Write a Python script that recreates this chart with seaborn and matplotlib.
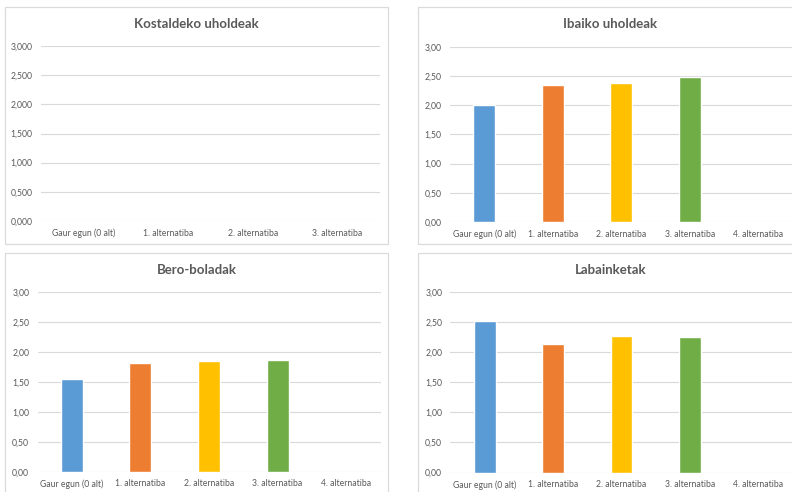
import numpy as np
import pandas as pd
import matplotlib
matplotlib.use("Agg")
import matplotlib.pyplot as plt
import seaborn as sns
from matplotlib.patches import Rectangle
from matplotlib.ticker import FuncFormatter, MultipleLocator

# ---------------------------------------------------------------
# DATA
# ---------------------------------------------------------------
cats_4 = ["Gaur egun (0 alt)", "1. alternatiba", "2. alternatiba", "3. alternatiba"]
cats_5 = cats_4 + ["4. alternatiba"]

kostaldeko = [None, None, None, None]
ibaiko = [2.00, 2.34, 2.39, 2.48, None]
bero = [1.54, 1.81, 1.85, 1.87, None]
labainketak = [2.52, 2.14, 2.27, 2.25, None]

titles = ["Kostaldeko uholdeak", "Ibaiko uholdeak", "Bero-boladak", "Labainketak"]
bar_colors = ["#5B9BD5", "#ED7D31", "#FFC000", "#70AD47", "#4472C4"]

# ---------------------------------------------------------------
# STYLE
# ---------------------------------------------------------------
sns.set_theme(style="white")
plt.rcParams["font.family"] = ["Lato", "DejaVu Sans"]

W, H = 792, 492
TXT = "#595959"
GRID = "#D9D9D9"

fig = plt.figure(figsize=(W / 100, H / 100), dpi=100)
fig.patch.set_facecolor("white")


def px_axes(x0, y0, x1, y1):
    # pixel box (top-left origin) -> figure axes
    return fig.add_axes([x0 / W, (H - y1) / H, (x1 - x0) / W, (y1 - y0) / H])


def chart_box(x0, y0, x1, y1):
    fig.patches.append(Rectangle((x0 / W, (H - y1) / H), (x1 - x0) / W, (y1 - y0) / H,
                                 transform=fig.transFigure, fill=False,
                                 edgecolor="#DADADA", lw=0.9, zorder=0))


def draw_panel(ax, cats, values, title, fmt, box):
    df = pd.DataFrame({"cat": cats, "val": values}).dropna()
    if len(df):
        sns.barplot(data=df, x="cat", y="val", hue="cat", order=cats,
                    hue_order=cats, palette=bar_colors[:len(cats)],
                    width=0.32, legend=False, saturation=1, ax=ax, zorder=3)
    ax.set_xticks(range(len(cats)))
    ax.set_xticklabels(cats)
    ax.set_xlim(-0.5, len(cats) - 0.5)
    ax.set_ylim(0, 3)
    ax.yaxis.set_major_locator(MultipleLocator(0.5))
    ax.yaxis.set_major_formatter(FuncFormatter(lambda v, p: fmt.format(v).replace(".", ",")))
    ax.grid(axis="y", color=GRID, lw=0.8, zorder=0)
    ax.set_axisbelow(True)
    for s in ax.spines.values():
        s.set_visible(False)
    ax.tick_params(axis="both", length=0, labelsize=6.2, colors=TXT)
    ax.tick_params(axis="y", pad=6)
    ax.tick_params(axis="x", pad=5.5)
    ax.set_xlabel("")
    ax.set_ylabel("")
    ax.set_facecolor("white")
    bx0, by0, bx1, by1 = box
    chart_box(*box)
    fig.text(((bx0 + bx1) / 2) / W, (H - (by0 + 17)) / H, title, ha="center",
             va="center", fontsize=9.5, fontweight="bold", color=TXT)


# top-left
ax1 = px_axes(41, 46, 380, 221)
draw_panel(ax1, cats_4, kostaldeko, titles[0], "{:.3f}", (5, 7, 388, 244))

# top-right
ax2 = px_axes(450, 47, 792.5, 222)
draw_panel(ax2, cats_5, ibaiko, titles[1], "{:.2f}", (418, 7, 803, 244))

# bottom-left
ax3 = px_axes(37.5, 291.7, 380.5, 471.7)
draw_panel(ax3, cats_5, bero, titles[2], "{:.2f}", (5, 253, 388, 505))

# bottom-right
ax4 = px_axes(450.5, 291.7, 792.5, 472.5)
draw_panel(ax4, cats_5, labainketak, titles[3], "{:.2f}", (418, 253, 803, 505))

fig.savefig("out.png", dpi=100, facecolor="white")
